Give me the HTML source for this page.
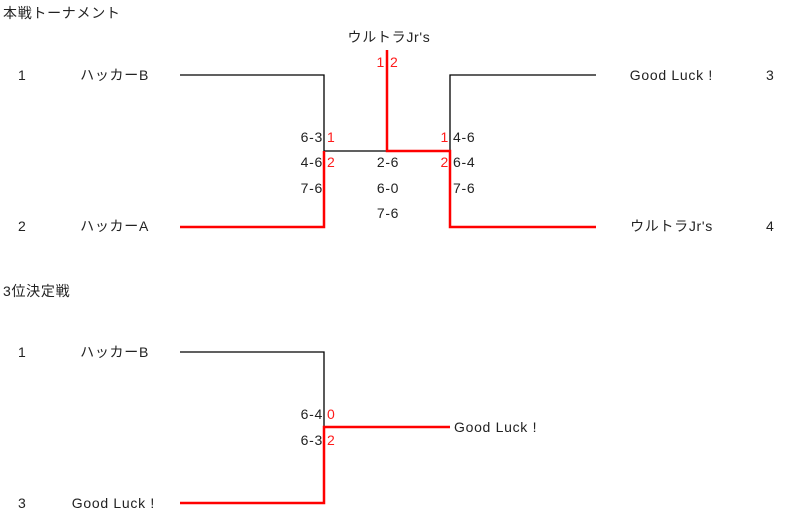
<!DOCTYPE html>
<html><head><meta charset="utf-8"><style>
html,body{margin:0;padding:0;background:#fff;}
svg{display:block;}
text{font-family:"Liberation Sans","Noto Sans CJK JP",sans-serif;font-size:14px;fill:#222;letter-spacing:0.7px;}
.r{fill:#ff1a1a;}
</style></head><body>
<svg width="793" height="530" viewBox="0 0 793 530" xmlns="http://www.w3.org/2000/svg">
<text x="3" y="18">本戦トーナメント</text>
<text x="18" y="80">1</text>
<text x="149" y="80" text-anchor="end">ハッカーB</text>
<text x="18" y="231">2</text>
<text x="149" y="231" text-anchor="end">ハッカーA</text>
<text x="713" y="80" text-anchor="end">Good Luck !</text>
<text x="766" y="80">3</text>
<text x="713" y="231" text-anchor="end">ウルトラJr's</text>
<text x="766" y="231">4</text>
<text x="389" y="42" text-anchor="middle">ウルトラJr's</text>
<text x="385" y="67" text-anchor="end" class="r">1</text>
<text x="390" y="67" class="r">2</text>
<g fill="none" stroke-width="1.3">
<path d="M180 75H324V151H387" stroke="#000"/>
<path d="M596 75H450V151" stroke="#000"/>
</g>
<g fill="none" stroke="#f00" stroke-width="2.5">
<path d="M180 227H324V151"/>
<path d="M387 50V151H450V227H596"/>
</g>
<text x="323" y="142" text-anchor="end">6-3</text>
<text x="323" y="167" text-anchor="end">4-6</text>
<text x="323" y="193" text-anchor="end">7-6</text>
<text x="327" y="142" class="r">1</text>
<text x="327" y="167" class="r">2</text>
<text x="449" y="142" text-anchor="end" class="r">1</text>
<text x="449" y="167" text-anchor="end" class="r">2</text>
<text x="453" y="142">4-6</text>
<text x="453" y="167">6-4</text>
<text x="453" y="193">7-6</text>
<text x="388" y="167" text-anchor="middle">2-6</text>
<text x="388" y="193" text-anchor="middle">6-0</text>
<text x="388" y="218" text-anchor="middle">7-6</text>

<text x="3" y="296">3位決定戦</text>
<text x="18" y="357">1</text>
<text x="149" y="357" text-anchor="end">ハッカーB</text>
<text x="18" y="508">3</text>
<text x="155" y="508" text-anchor="end">Good Luck !</text>
<path d="M180 352H324V427" fill="none" stroke="#000" stroke-width="1.3"/>
<path d="M180 503H324V427H450" fill="none" stroke="#f00" stroke-width="2.5"/>
<text x="323" y="419" text-anchor="end">6-4</text>
<text x="323" y="445" text-anchor="end">6-3</text>
<text x="327" y="419" class="r">0</text>
<text x="327" y="445" class="r">2</text>
<text x="454" y="432">Good Luck !</text>
</svg>
</body></html>
